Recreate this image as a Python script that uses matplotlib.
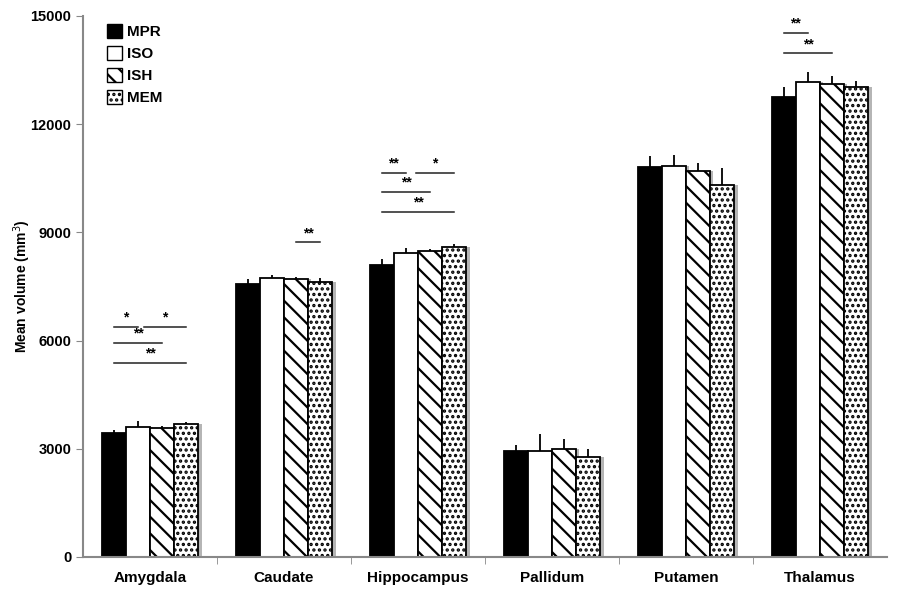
import numpy as np
import matplotlib.pyplot as plt
from matplotlib.patches import Patch

plt.rcParams['font.family'] = ['Liberation Sans', 'DejaVu Sans']
plt.rcParams['hatch.linewidth'] = 1.6

# data
regions = ["Amygdala", "Caudate", "Hippocampus", "Pallidum", "Putamen", "Thalamus"]
methods = ["MPR", "ISO", "ISH", "MEM"]
mpr = [3440, 7570, 8100, 2950, 10805, 12760]
iso = [3600, 7725, 8440, 2940, 10840, 13160]
ish = [3580, 7700, 8490, 2990, 10710, 13110]
mem = [3690, 7615, 8590, 2770, 10315, 13020]
mpr_err = [80, 140, 160, 155, 315, 280]
iso_err = [180, 95, 130, 470, 305, 280]
ish_err = [50, 55, 60, 270, 205, 220]
mem_err = [60, 120, 100, 220, 460, 180]

# significance bars: (region index, bar from, bar to, height, label)
sig = [
    (0, 0, 1, 6390, "*"), (0, 1.25, 3, 6390, "*"),
    (0, 0, 2, 5935, "**"), (0, 0, 3, 5390, "**"),
    (1, 2, 3, 8730, "**"),
    (2, 0, 1, 10655, "**"), (2, 1.4, 3, 10655, "*"),
    (2, 0, 2, 10130, "**"), (2, 0, 3, 9575, "**"),
    (5, 0, 1, 14540, "**"), (5, 0, 2, 13970, "**"),
]

values = [mpr, iso, ish, mem]
errors = [mpr_err, iso_err, ish_err, mem_err]
faces = ["black", "white", "white", "white"]
hatches = [None, None, "\\\\", "..."]

fig = plt.figure(figsize=(8.97, 6), dpi=100)
ax = fig.add_axes([83 / 897, 43 / 600, (887 - 83) / 897, (557 - 16) / 600])

x = np.arange(len(regions))
w = 0.18
offsets = (np.arange(4) - 1.5) * w

# drop shadow behind each group
for k in range(4):
    ax.bar(x + offsets[k] + 0.025, values[k], w, color="#b5b5b5", zorder=1, linewidth=0)

for k in range(4):
    ax.bar(x + offsets[k], values[k], w, color=faces[k], edgecolor="black",
           hatch=hatches[k], linewidth=1.3, zorder=2)
    v = np.array(values[k])
    e = np.array(errors[k])
    ax.vlines(x + offsets[k], v, v + e, color="black", linewidth=1.3, zorder=3)

for g, i, j, yv, lab in sig:
    x0 = g + offsets[0] + i * w
    x1 = g + offsets[0] + j * w
    ax.plot([x0, x1], [yv, yv], color="#222222", linewidth=1.1, zorder=3)
    ax.text((x0 + x1) / 2, yv + 60, lab, ha="center", va="bottom",
            fontsize=10, fontweight="bold")

ax.set_xlim(-0.5, len(regions) - 0.5)
ax.set_ylim(0, 15000)
ax.set_yticks(np.arange(0, 15001, 3000))
ax.set_xticks(x)
ax.set_xticklabels(regions, fontsize=11, fontweight="bold")
ax.set_xticks(np.arange(0.5, len(regions) - 0.5), minor=True)
ax.tick_params(axis="x", which="major", length=0, pad=10)
ax.tick_params(axis="x", which="minor", length=5, color="#888888")
ax.tick_params(axis="y", length=5, color="#888888", labelsize=10.5)
for t in ax.get_yticklabels():
    t.set_fontweight("bold")
ax.set_ylabel("Mean volume (mm$^3$)", fontsize=10, fontweight="bold")
ax.yaxis.set_label_coords(-0.062, 0.5)

for s in ["top", "right"]:
    ax.spines[s].set_visible(False)
for s in ["left", "bottom"]:
    ax.spines[s].set_color("#888888")
    ax.spines[s].set_linewidth(1.5)

handles = [Patch(facecolor=faces[k], edgecolor="black", hatch=hatches[k], linewidth=1)
           for k in range(4)]
leg = ax.legend(handles, methods, loc="upper left", bbox_to_anchor=(0.013, 1.01),
                frameon=False, handlelength=1.0, handleheight=1.0, handletextpad=0.3,
                labelspacing=0.45, prop={"weight": "bold", "size": 11})

fig.savefig("out.png", dpi=100)
